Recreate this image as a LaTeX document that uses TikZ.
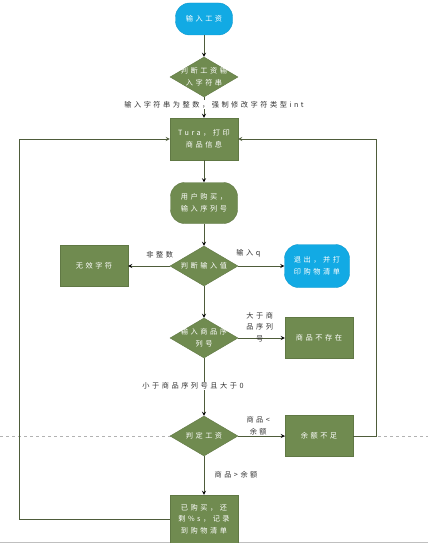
\documentclass[tikz,border=0pt]{standalone}
\usepackage{fontspec}
\newfontfamily\cjk[LetterSpace=35]{Noto Sans CJK SC}
\usetikzlibrary{shapes.geometric,positioning}
\definecolor{leaf}{RGB}{112,139,80}
\definecolor{leafedge}{RGB}{96,120,68}
\definecolor{sky}{RGB}{18,170,228}
\definecolor{wire}{RGB}{78,92,58}

\begin{document}
\begin{tikzpicture}[x=1pt,y=1pt,node distance=60pt,on grid,>=stealth,
    every node/.style={font=\cjk\fontsize{7.2}{11.5}\selectfont,align=center},
    term/.style={rounded corners=14pt,fill=sky,draw=sky!90!black,text=white,minimum width=57pt},
    soft/.style={rounded corners=14pt,fill=leaf,draw=leafedge,text=white,minimum width=67pt,minimum height=41pt},
    box/.style={rectangle,fill=leaf,draw=leafedge,text=white,minimum width=68pt,minimum height=41pt},
    test/.style={diamond,fill=leaf,draw=leafedge,minimum width=68pt,minimum height=40pt,inner sep=0pt},
    intest/.style={text=white},
    note/.style={fill=white,inner sep=1pt,text=black!80},
    wire/.style={draw=wire,line width=0.8pt}]
    \useasboundingbox (0,-543) rectangle (428,0);
    % page guides
    \draw[black!30,dashed] (0,-436) -- (428,-436);
    \draw[black!25,line width=1pt] (0,-542) -- (428,-542);

    \node[term,minimum height=32pt](start) at (204,-19){输入工资};
    \node[test,label={[intest]center:判断工资输\\入字符串}](chk_in)[below=58pt of start]{};
    \node[box,minimum height=42pt](tura)[below=62pt of chk_in]{Tura，打印\\商品信息};
    \node[soft](buy)[below=64pt of tura]{用户购买，\\输入序列号};
    \node[test,label={[intest]center:判断输入值}](chk_val)[below=63pt of buy]{};
    \node[box](invalid)[left=110pt of chk_val]{无效字符};
    \node[term,minimum width=65pt,minimum height=43pt](quit)[right=113pt of chk_val]{退出，并打\\印购物清单};
    \node[test,label={[intest]center:输入商品序\\列号}](chk_no)[below=72pt of chk_val]{};
    \node[box](missing)[right=115pt of chk_no]{商品不存在};
    \node[test,label={[intest]center:判定工资}](chk_pay)[below=98pt of chk_no]{};
    \node[box](short)[right=115pt of chk_pay]{余额不足};
    \node[box,minimum height=48pt](bought)[below=83pt of chk_pay]{已购买，还\\剩\%s，记录\\到购物清单};

    \path[wire,->]
    (start) edge (chk_in)
    (chk_in) edge node[note,pos=0.35,xshift=10pt]{输入字符串为整数，强制修改字符类型int} (tura)
    (tura) edge (buy)
    (buy) edge (chk_val)
    (chk_val) edge node[note,above=7pt,pos=0.24]{非整数} (invalid)
          edge node[note,above=7pt,pos=0.22]{输入q} (quit)
          edge (chk_no)
    (chk_no) edge node[pos=0.46,yshift=11pt,text=black!80]{大于商\\品序列\\号} (missing)
          edge node[note,pos=0.48,xshift=-11pt]{小于商品序列号且大于0} (chk_pay)
    (chk_pay) edge node[pos=0.43,yshift=10pt,text=black!80]{商品<\\余额} (short)
          edge node[note,pos=0.47,xshift=32pt]{商品>余额} (bought);
    \draw[wire,->] (short.east) -- ++(23,0) |- (tura.east);
    \draw[wire,->] (bought.west) -- ++(-150,0) |- (tura.west);
  \end{tikzpicture}
\end{document}
